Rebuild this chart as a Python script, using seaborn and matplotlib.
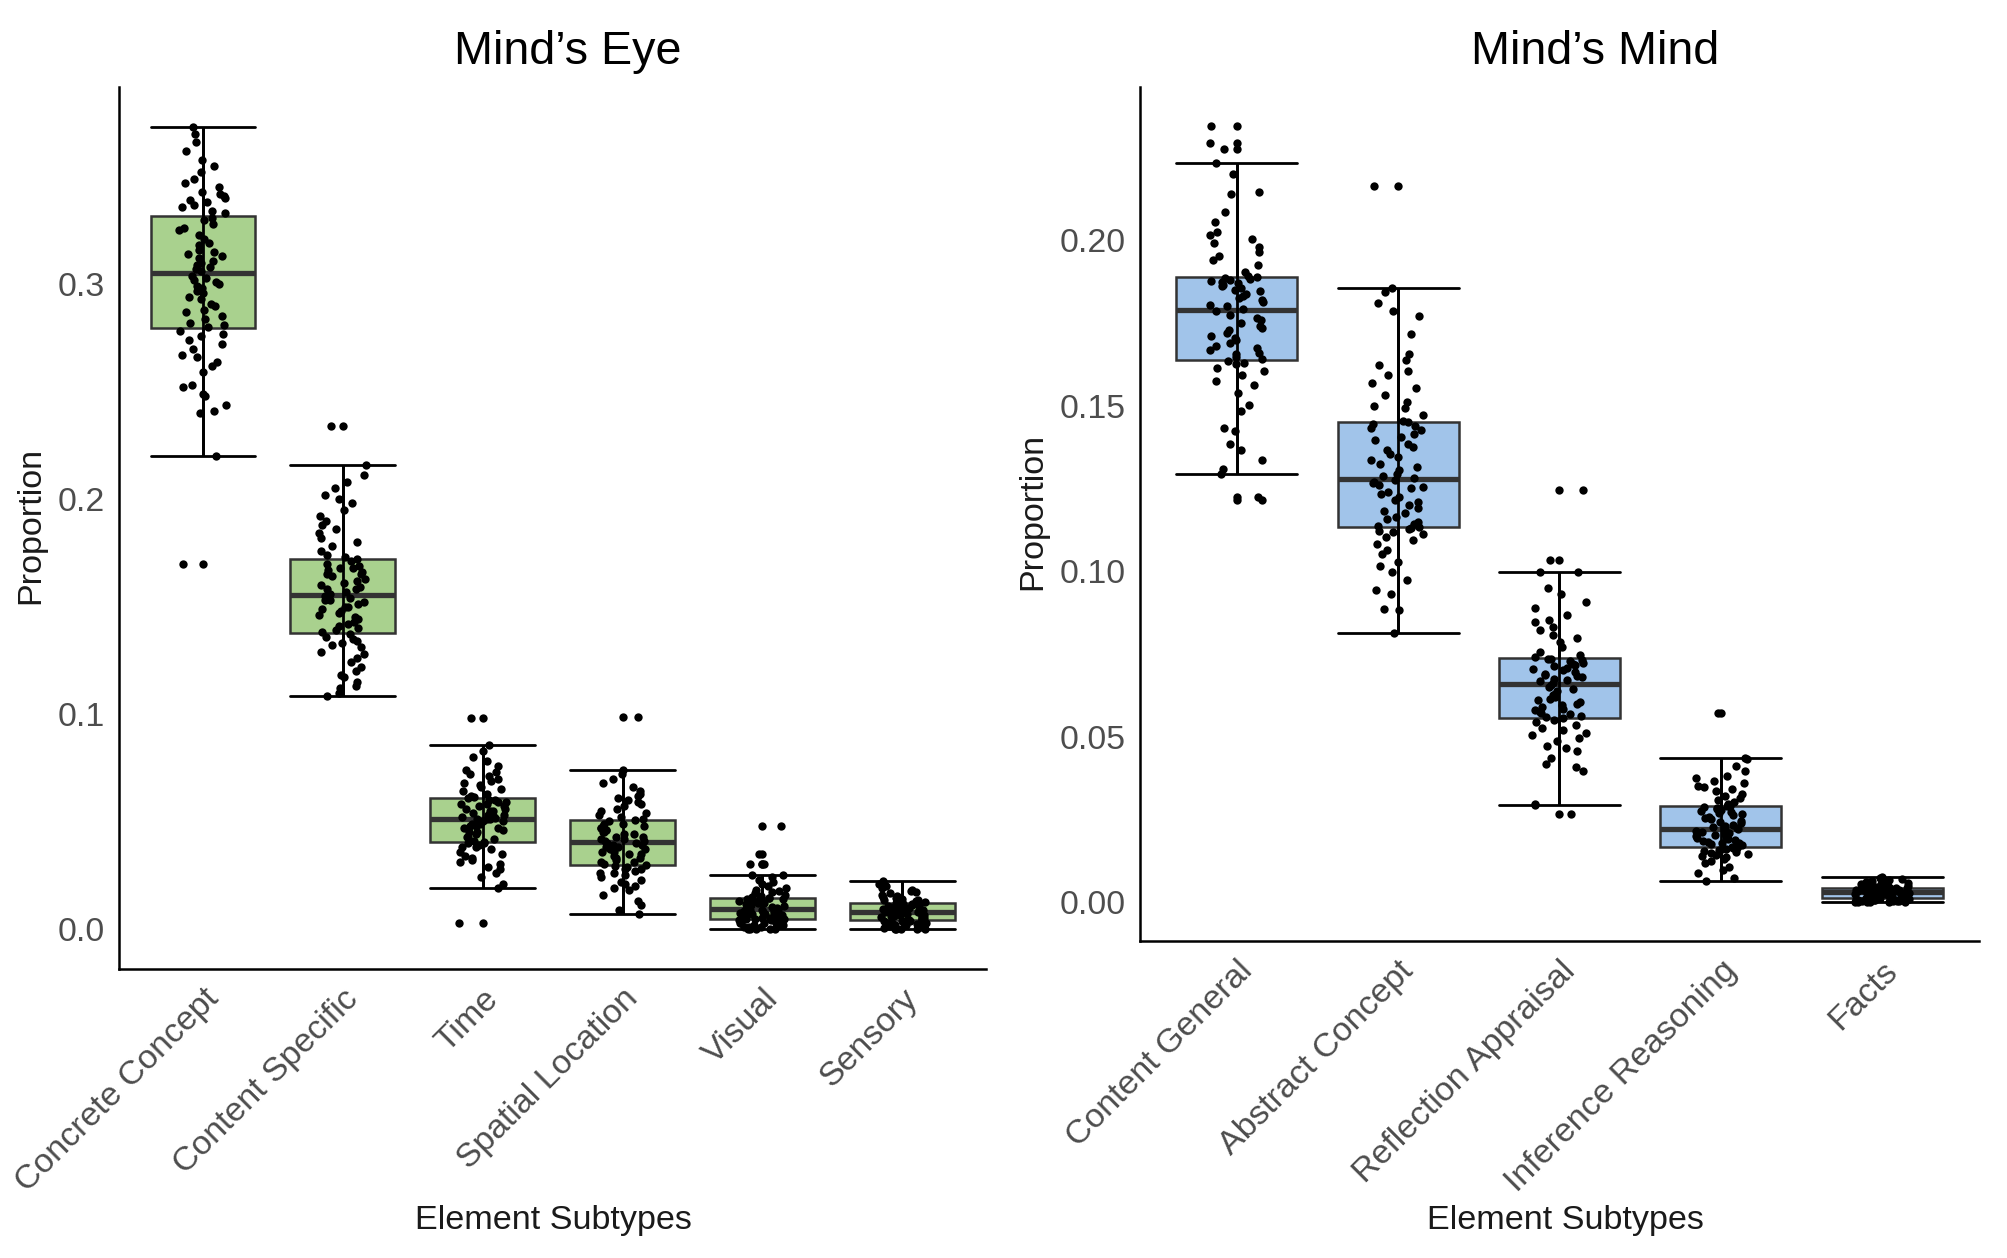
import numpy as np
import pandas as pd
import seaborn as sns
import matplotlib.pyplot as plt
from matplotlib.cbook import boxplot_stats
from matplotlib.ticker import FormatStrFormatter

# values (proportion per participant)
eye_subtypes = ["Concrete Concept", "Content Specific", "Time",
                "Spatial Location", "Visual", "Sensory"]
mind_subtypes = ["Content General", "Abstract Concept", "Reflection Appraisal",
                 "Inference Reasoning", "Facts"]

concrete_concept = [
    0.170, 0.220, 0.240, 0.241, 0.244, 0.248, 0.249, 0.252, 0.253, 0.259,
    0.262, 0.264, 0.266, 0.267, 0.270, 0.272, 0.274, 0.276, 0.277, 0.278,
    0.280, 0.281, 0.282, 0.284, 0.285, 0.287, 0.288, 0.290, 0.291, 0.293,
    0.294, 0.296, 0.297, 0.298, 0.299, 0.300, 0.301, 0.302, 0.303, 0.304,
    0.306, 0.307, 0.308, 0.309, 0.310, 0.311, 0.312, 0.313, 0.314, 0.315,
    0.316, 0.318, 0.319, 0.321, 0.323, 0.325, 0.326, 0.328, 0.330, 0.331,
    0.333, 0.334, 0.336, 0.337, 0.338, 0.339, 0.340, 0.341, 0.342, 0.343,
    0.345, 0.347, 0.349, 0.352, 0.355, 0.358, 0.362, 0.366, 0.370, 0.373]
content_specific = [
    0.1086, 0.110, 0.112, 0.113, 0.115, 0.117, 0.118, 0.120, 0.122, 0.124,
    0.126, 0.128, 0.129, 0.131, 0.132, 0.133, 0.134, 0.135, 0.136, 0.137,
    0.138, 0.139, 0.140, 0.141, 0.142, 0.143, 0.144, 0.145, 0.146, 0.147,
    0.148, 0.149, 0.150, 0.150, 0.151, 0.152, 0.153, 0.153, 0.154, 0.155,
    0.156, 0.157, 0.158, 0.158, 0.159, 0.160, 0.161, 0.162, 0.163, 0.164,
    0.165, 0.165, 0.166, 0.167, 0.168, 0.168, 0.169, 0.170, 0.171, 0.172,
    0.173, 0.174, 0.176, 0.178, 0.180, 0.182, 0.184, 0.186, 0.188, 0.190,
    0.192, 0.195, 0.198, 0.200, 0.202, 0.205, 0.208, 0.211, 0.216, 0.234]
time = [
    0.003, 0.019, 0.021, 0.024, 0.026, 0.028, 0.029, 0.030, 0.031, 0.032,
    0.033, 0.034, 0.035, 0.036, 0.037, 0.038, 0.038, 0.039, 0.040, 0.040,
    0.0403, 0.041, 0.042, 0.043, 0.043, 0.044, 0.045, 0.045, 0.046, 0.047,
    0.047, 0.048, 0.048, 0.049, 0.049, 0.050, 0.050, 0.051, 0.051, 0.051,
    0.0515, 0.052, 0.052, 0.053, 0.053, 0.054, 0.054, 0.055, 0.055, 0.056,
    0.056, 0.057, 0.057, 0.058, 0.058, 0.059, 0.059, 0.060, 0.060, 0.061,
    0.0615, 0.062, 0.063, 0.064, 0.065, 0.066, 0.067, 0.068, 0.069, 0.070,
    0.071, 0.072, 0.073, 0.074, 0.076, 0.078, 0.080, 0.083, 0.0856, 0.098]
spatial_location = [
    0.007, 0.009, 0.011, 0.013, 0.016, 0.018, 0.019, 0.020, 0.021, 0.022,
    0.023, 0.024, 0.025, 0.026, 0.026, 0.027, 0.028, 0.028, 0.029, 0.0295,
    0.0297, 0.030, 0.031, 0.031, 0.032, 0.033, 0.033, 0.034, 0.035, 0.035,
    0.036, 0.036, 0.037, 0.037, 0.038, 0.038, 0.039, 0.039, 0.040, 0.040,
    0.041, 0.041, 0.042, 0.042, 0.043, 0.043, 0.044, 0.044, 0.045, 0.045,
    0.046, 0.046, 0.047, 0.047, 0.048, 0.048, 0.049, 0.049, 0.050, 0.0508,
    0.051, 0.052, 0.053, 0.054, 0.055, 0.056, 0.057, 0.058, 0.059, 0.060,
    0.061, 0.062, 0.063, 0.064, 0.066, 0.068, 0.070, 0.072, 0.074, 0.0984]
visual = [
    0.000, 0.000, 0.000, 0.000, 0.000, 0.001, 0.001, 0.001, 0.002, 0.002,
    0.002, 0.003, 0.003, 0.003, 0.003, 0.004, 0.004, 0.004, 0.0045, 0.0047,
    0.0048, 0.005, 0.005, 0.0055, 0.006, 0.006, 0.0065, 0.0065, 0.007, 0.007,
    0.0075, 0.0075, 0.008, 0.008, 0.0083, 0.0085, 0.0087, 0.0088, 0.009, 0.009,
    0.0092, 0.0095, 0.0098, 0.010, 0.0105, 0.011, 0.011, 0.0115, 0.012, 0.012,
    0.0125, 0.0125, 0.013, 0.013, 0.0133, 0.0135, 0.0138, 0.014, 0.0141, 0.0142,
    0.0145, 0.015, 0.0155, 0.016, 0.0165, 0.017, 0.0175, 0.018, 0.019, 0.020,
    0.021, 0.022, 0.023, 0.024, 0.025, 0.0253, 0.030, 0.030, 0.035, 0.048]
sensory = [
    0.000, 0.000, 0.000, 0.000, 0.000, 0.0005, 0.001, 0.001, 0.0015, 0.002,
    0.002, 0.0025, 0.0025, 0.003, 0.003, 0.003, 0.0035, 0.0035, 0.0037, 0.0038,
    0.004, 0.0043, 0.0045, 0.0048, 0.005, 0.0053, 0.0055, 0.0058, 0.006, 0.0062,
    0.0065, 0.0067, 0.007, 0.0072, 0.0074, 0.0075, 0.0077, 0.0078, 0.0079, 0.008,
    0.0081, 0.0083, 0.0085, 0.0087, 0.0089, 0.009, 0.0092, 0.0094, 0.0096, 0.0098,
    0.010, 0.0102, 0.0104, 0.0106, 0.0108, 0.011, 0.0112, 0.0114, 0.0116, 0.0118,
    0.012, 0.0123, 0.0126, 0.013, 0.0133, 0.0137, 0.014, 0.0145, 0.015, 0.0155,
    0.016, 0.0165, 0.017, 0.0175, 0.018, 0.019, 0.020, 0.021, 0.022, 0.0225]

content_general = [
    0.1215, 0.1223, 0.1293, 0.131, 0.1335, 0.1365, 0.1385, 0.1423, 0.1433, 0.1483,
    0.1503, 0.1538, 0.1563, 0.1575, 0.1593, 0.1605, 0.1615, 0.1625, 0.163, 0.1635,
    0.164, 0.1648, 0.1655, 0.166, 0.1668, 0.1675, 0.168, 0.169, 0.1698, 0.1705,
    0.171, 0.172, 0.1728, 0.1735, 0.174, 0.175, 0.1758, 0.1765, 0.1775, 0.1785,
    0.1792, 0.180, 0.1805, 0.1812, 0.182, 0.1825, 0.183, 0.1838, 0.1845, 0.185,
    0.1855, 0.186, 0.1865, 0.187, 0.1873, 0.1877, 0.188, 0.1884, 0.1886, 0.1888,
    0.1892, 0.1905, 0.1924, 0.1939, 0.1952, 0.1964, 0.1979, 0.1992, 0.2004, 0.2015,
    0.2024, 0.2054, 0.2084, 0.2139, 0.2145, 0.2199, 0.2234, 0.2275, 0.2294, 0.2346]
abstract_concept = [
    0.0813, 0.0882, 0.0887, 0.0932, 0.0942, 0.0972, 0.0997, 0.1015, 0.1027, 0.1052,
    0.1065, 0.1082, 0.1095, 0.1102, 0.1112, 0.1118, 0.1122, 0.1126, 0.113, 0.1133,
    0.1135, 0.1142, 0.115, 0.1158, 0.1165, 0.1175, 0.1183, 0.119, 0.120, 0.1208,
    0.1215, 0.1225, 0.1232, 0.124, 0.125, 0.1255, 0.126, 0.1265, 0.127, 0.1275,
    0.128, 0.1288, 0.1295, 0.1305, 0.1315, 0.1325, 0.1335, 0.1345, 0.1355, 0.1365,
    0.1375, 0.1385, 0.1395, 0.1405, 0.1415, 0.1425, 0.1432, 0.144, 0.1445, 0.145,
    0.1455, 0.1472, 0.1492, 0.1498, 0.1512, 0.1532, 0.1552, 0.1567, 0.1592, 0.1605,
    0.1622, 0.1637, 0.1655, 0.1717, 0.1772, 0.1787, 0.181, 0.1842, 0.1855, 0.2163]
reflection_appraisal = [
    0.0265, 0.0295, 0.0297, 0.0397, 0.0407, 0.0417, 0.0437, 0.0457, 0.0465, 0.0472,
    0.0487, 0.0497, 0.0505, 0.0512, 0.052, 0.0527, 0.0535, 0.0545, 0.055, 0.0555,
    0.0558, 0.0562, 0.0567, 0.057, 0.0575, 0.058, 0.0585, 0.059, 0.0595, 0.060,
    0.0605, 0.061, 0.0615, 0.062, 0.0625, 0.063, 0.0638, 0.0645, 0.065, 0.0656,
    0.0662, 0.0667, 0.067, 0.0675, 0.068, 0.0683, 0.0687, 0.069, 0.0695, 0.070,
    0.0705, 0.0708, 0.0712, 0.0716, 0.072, 0.0724, 0.0728, 0.0731, 0.0734, 0.0736,
    0.074, 0.0747, 0.0757, 0.0772, 0.0785, 0.0797, 0.0807, 0.0822, 0.0832, 0.0845,
    0.0852, 0.0867, 0.0889, 0.0907, 0.0932, 0.095, 0.0997, 0.0998, 0.1035, 0.1246]
inference_reasoning = [
    0.0064, 0.0072, 0.0087, 0.0097, 0.0105, 0.0117, 0.0125, 0.013, 0.0137, 0.014,
    0.0143, 0.0147, 0.015, 0.0153, 0.0156, 0.0158, 0.016, 0.0162, 0.0164, 0.0165,
    0.0167, 0.017, 0.0172, 0.0175, 0.0178, 0.018, 0.0183, 0.0186, 0.0189, 0.0192,
    0.0195, 0.0198, 0.0201, 0.0204, 0.0207, 0.021, 0.0213, 0.0216, 0.0218, 0.022,
    0.0223, 0.0227, 0.023, 0.0234, 0.0238, 0.0242, 0.0246, 0.025, 0.0254, 0.0258,
    0.0262, 0.0266, 0.027, 0.0273, 0.0276, 0.0279, 0.0282, 0.0285, 0.0287, 0.0289,
    0.0292, 0.0296, 0.0302, 0.0308, 0.0315, 0.0322, 0.0327, 0.0335, 0.0342, 0.0348,
    0.0352, 0.036, 0.0367, 0.0375, 0.0382, 0.0395, 0.0412, 0.0432, 0.0437, 0.0572]
facts = [
    0.000, 0.000, 0.000, 0.000, 0.000, 0.000, 0.0002, 0.0003, 0.0004, 0.0005,
    0.0006, 0.0006, 0.0007, 0.0008, 0.0008, 0.0009, 0.0009, 0.001, 0.001, 0.0011,
    0.0012, 0.0013, 0.0014, 0.0015, 0.0016, 0.0017, 0.0018, 0.0019, 0.002, 0.0021,
    0.0022, 0.0023, 0.0024, 0.0025, 0.0026, 0.0027, 0.0027, 0.0028, 0.0029, 0.003,
    0.003, 0.0031, 0.0032, 0.0033, 0.0033, 0.0034, 0.0035, 0.0035, 0.0036, 0.0037,
    0.0037, 0.0038, 0.0039, 0.0039, 0.004, 0.0041, 0.0041, 0.0042, 0.0042, 0.0043,
    0.0043, 0.0044, 0.0045, 0.0046, 0.0047, 0.0048, 0.0049, 0.005, 0.0052, 0.0054,
    0.0055, 0.0057, 0.0059, 0.006, 0.0062, 0.0065, 0.0068, 0.007, 0.0073, 0.0076]

eye_values = [concrete_concept, content_specific, time, spatial_location, visual, sensory]
mind_values = [content_general, abstract_concept, reflection_appraisal,
               inference_reasoning, facts]

GREEN = "#A9D18E"
BLUE = "#A1C4EA"
EDGE = "#333333"
TICKTXT = "#4D4D4D"
DOT = 3.0


def long_frame(names, values):
    rows = []
    for name, vals in zip(names, values):
        for v in vals:
            rows.append((name, v))
    return pd.DataFrame(rows, columns=["subtype", "proportion"])


def draw_panel(ax, names, values, fill, yticks, fmt):
    df = long_frame(names, values)
    sns.boxplot(data=df, x="subtype", y="proportion", order=names, ax=ax,
                color=fill, saturation=1, width=0.75, whis=1.5,
                linecolor=EDGE, linewidth=0.9, capwidths=0.75,
                flierprops=dict(marker="o", markersize=DOT, markerfacecolor="black",
                                markeredgecolor="black", markeredgewidth=0,
                                linestyle="none"),
                medianprops=dict(color=EDGE, linewidth=1.9),
                whiskerprops=dict(color="black", linewidth=1.0),
                capprops=dict(color="black", linewidth=1.0))
    # errorbar line running through the box, as in the original
    for i, vals in enumerate(values):
        st = boxplot_stats(np.asarray(vals), whis=1.5)[0]
        ax.vlines(i, st["whislo"], st["whishi"], color="black", lw=1.0, zorder=2.5)
    sns.stripplot(data=df, x="subtype", y="proportion", order=names, ax=ax,
                  color="black", size=DOT, jitter=0.17, linewidth=0, zorder=3)

    allv = np.concatenate([np.asarray(v) for v in values])
    lo, hi = allv.min(), allv.max()
    pad = 0.05 * (hi - lo)
    ax.set_ylim(lo - pad, hi + pad)
    ax.set_xlim(-0.6, len(names) - 0.4)
    ax.set_yticks(yticks)
    ax.yaxis.set_major_formatter(FormatStrFormatter(fmt))
    ax.set_xlabel("")
    ax.set_ylabel("")
    sns.despine(ax=ax)
    for side in ["left", "bottom"]:
        ax.spines[side].set_color("black")
        ax.spines[side].set_linewidth(0.9)
    ax.tick_params(axis="both", color=EDGE, labelcolor=TICKTXT, labelsize=12.2,
                   length=2.6, width=0.6, pad=2.5)
    ax.set_xticks(range(len(names)))
    ax.set_xticklabels(names, rotation=45, ha="right", va="top",
                       rotation_mode="anchor")


sns.set_style("white")
plt.rcParams["font.family"] = ["Liberation Sans", "DejaVu Sans"]
np.random.seed(7)

fig = plt.figure(figsize=(10.04, 6.29), dpi=200)
ax1 = fig.add_axes([0.0593, 0.2297, 0.4318, 0.701])
ax2 = fig.add_axes([0.5677, 0.252, 0.4178, 0.679])

draw_panel(ax1, eye_subtypes, eye_values, GREEN, [0.0, 0.1, 0.2, 0.3], "%.1f")
draw_panel(ax2, mind_subtypes, mind_values, BLUE, [0.0, 0.05, 0.10, 0.15, 0.20], "%.2f")

fig.text(0.2829, 0.9495, "Mind\u2019s Eye", ha="center", va="baseline", fontsize=16.8,
         color="black")
fig.text(0.7943, 0.9495, "Mind\u2019s Mind", ha="center", va="baseline", fontsize=16.8,
         color="black")
fig.text(0.2754, 0.0227, "Element Subtypes", ha="center", va="baseline", fontsize=12.3,
         color="#1A1A1A")
fig.text(0.7794, 0.0227, "Element Subtypes", ha="center", va="baseline", fontsize=12.3,
         color="#1A1A1A")
fig.text(0.0152, 0.5827, "Proportion", rotation=90, ha="center", va="center",
         fontsize=12.3, color="#1A1A1A")
fig.text(0.5144, 0.5938, "Proportion", rotation=90, ha="center", va="center",
         fontsize=12.3, color="#1A1A1A")

fig.savefig("out.png", dpi=200)
